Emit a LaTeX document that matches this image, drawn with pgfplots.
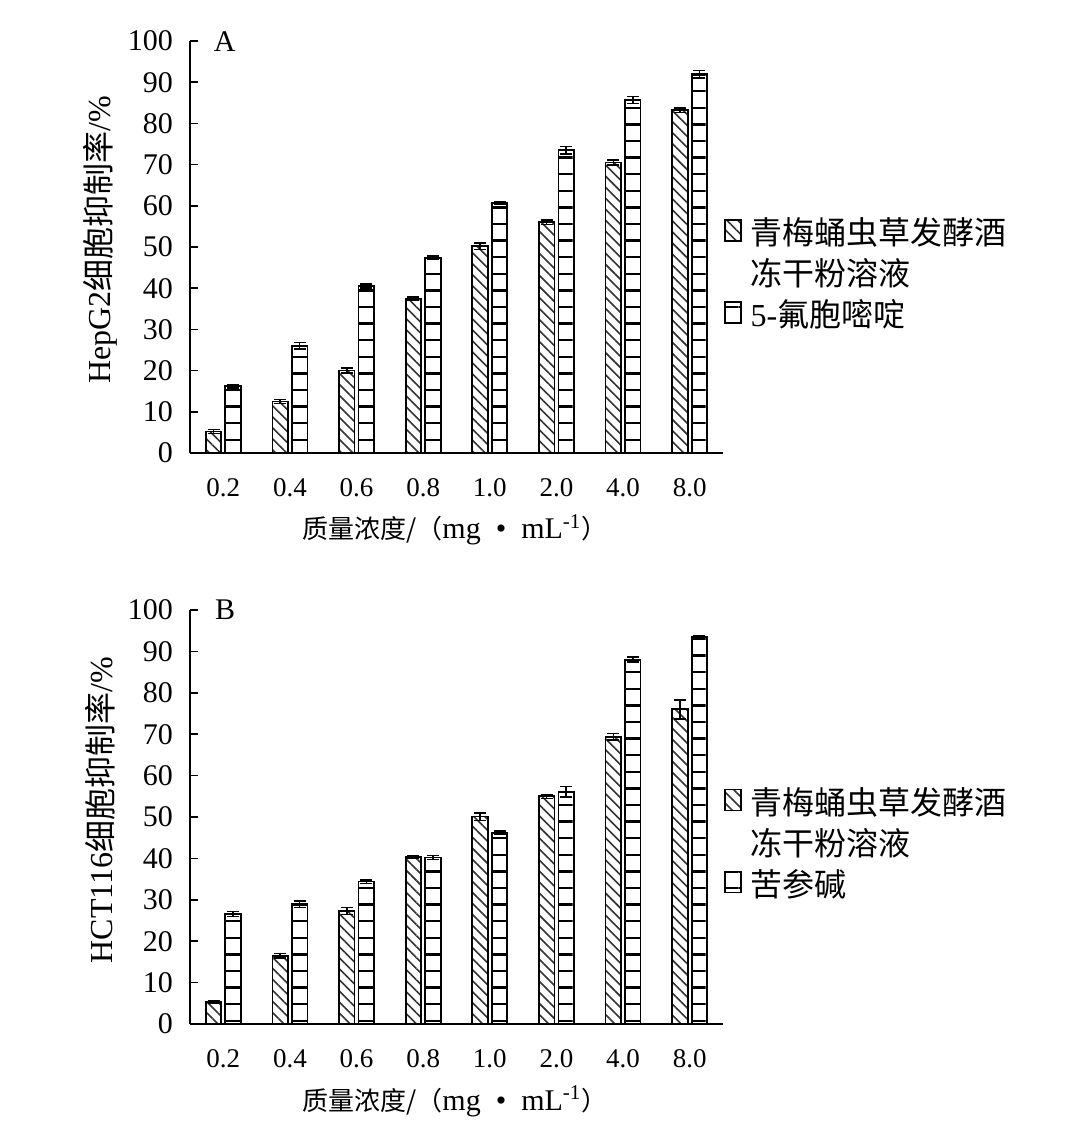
\documentclass[border=0pt]{standalone}
\usepackage{fontspec}
\setmainfont{Liberation Serif}
\newfontfamily\cjk{Noto Sans CJK SC}
\usepackage{pgfplots}
\usepackage{pgfplotstable}
\pgfplotsset{compat=1.18}
\usetikzlibrary{patterns.meta}

\pgfplotstableread{
x y1 e1 y2 e2
0 5.2 0.5 16.2 0.4
1 12.5 0.5 26.0 0.8
2 20.0 0.6 40.5 0.5
3 37.5 0.4 47.4 0.4
4 50.2 0.8 60.7 0.4
5 56.0 0.6 73.5 0.9
6 70.5 0.6 85.7 0.9
7 83.2 0.5 91.9 0.9
}\dataA
\pgfplotstableread{
x y1 e1 y2 e2
0 5.4 0.3 26.6 0.6
1 16.5 0.6 28.9 0.8
2 27.3 0.8 34.4 0.4
3 40.3 0.3 40.2 0.5
4 50.1 0.9 46.2 0.4
5 55.0 0.5 56.1 1.3
6 69.4 0.8 88.0 0.6
7 76.0 2.3 93.4 0.5
}\dataB

\tikzset{
  dpat/.style={pattern={Lines[angle=-45,distance=3.9pt,line width=0.8pt]},pattern color=black!80},
  hpat/.style={pattern={Lines[angle=0,distance=8.3pt,line width=1.2pt]},pattern color=black},
}
\pgfplotsset{
  myax/.style={
    scale only axis, width=266.5pt, height=206pt, clip=false,
    ymin=0, ymax=100, ytick={0,10,...,100},
    xmin=-0.5, xmax=7.5,
    xtick={0,...,7}, xticklabels={0.2,0.4,0.6,0.8,1.0,2.0,4.0,8.0},
    axis x line*=bottom, axis y line*=left,
    tick align=inside, major tick length=4pt,
    xtick style={draw=none},
    ytick style={line width=0.8pt, black},
    axis line style={line width=0.9pt, black},
    /pgf/number format/assume math mode=true,
    y tick label style={font=\fontsize{15}{18}\selectfont, xshift=-5pt},
    x tick label style={font=\fontsize{13.5}{16}\selectfont, yshift=-9pt},
    xlabel style={font=\fontsize{13}{16}\selectfont, at={(axis description cs:0.497,-0.187)}, anchor=center},
    ylabel style={font=\fontsize{16}{19}\selectfont, at={(axis description cs:-0.169,0.517)}, anchor=center},
    legend style={draw=none, fill=none, at={(0.99,0.59)}, anchor=north west,
      font=\fontsize{16}{19}\selectfont,
      nodes={inner ysep=2.5pt, inner xsep=4.5pt, text height=12.5pt, text depth=3pt}},
    legend cell align=left,
  },
  s1/.style={ybar, bar width=7.75pt, bar shift=-4.875pt, draw=black, line width=0.9pt, dpat,
    error bars/y dir=both, error bars/y explicit,
    error bars/error bar style={line width=0.7pt, black, xshift=-4.875pt},
    error bars/error mark options={rotate=90, mark size=3pt, line width=0.7pt, black}},
  s2/.style={ybar, bar width=7.75pt, bar shift=4.875pt, draw=black, line width=0.9pt, hpat,
    error bars/y dir=both, error bars/y explicit,
    error bars/error bar style={line width=0.7pt, black, xshift=4.875pt},
    error bars/error mark options={rotate=90, mark size=3pt, line width=0.7pt, black}},
  limg/.style={legend image code/.code={\draw[##1,line width=0.8pt] (0pt,-0.3em) rectangle (8pt,0.75em);}},
}
\newcommand{\xlab}{{\cjk 质量浓度/（}{\fontsize{15}{18}\selectfont mg\enspace•\enspace mL\textsuperscript{-1}}{\cjk ）}}

\begin{document}
\begin{tikzpicture}
\path[use as bounding box] (0,0) rectangle (533pt,568.5pt);
\begin{axis}[myax, at={(95pt,342pt)}, anchor=south west,
  ylabel={HepG2{\cjk 细胞抑制率}/\%},
  xlabel={\xlab}]
\addplot[s1, limg] table[x=x, y=y1, y error=e1] {\dataA};
\addlegendentry{{\cjk 青梅蛹虫草发酵酒}}
\addlegendimage{empty legend}
\addlegendentry{{\cjk 冻干粉溶液}}
\addplot[s2, limg] table[x=x, y=y2, y error=e2] {\dataA};
\addlegendentry{5-{\cjk 氟胞嘧啶}}
\node[font=\fontsize{15}{18}\selectfont] at (rel axis cs:0.065,0.998) {A};
\end{axis}
\begin{axis}[myax, at={(95pt,56.5pt)}, anchor=south west, height=207pt,
  ylabel={HCT116{\cjk 细胞抑制率}/\%},
  xlabel={\xlab}]
\addplot[s1, limg] table[x=x, y=y1, y error=e1] {\dataB};
\addlegendentry{{\cjk 青梅蛹虫草发酵酒}}
\addlegendimage{empty legend}
\addlegendentry{{\cjk 冻干粉溶液}}
\addplot[s2, limg] table[x=x, y=y2, y error=e2] {\dataB};
\addlegendentry{{\cjk 苦参碱}}
\node[font=\fontsize{15}{18}\selectfont] at (rel axis cs:0.066,1.0) {B};
\end{axis}
\end{tikzpicture}
\end{document}
